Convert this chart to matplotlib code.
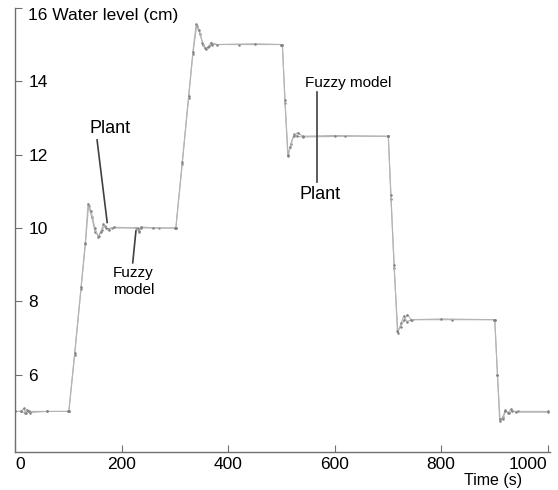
import numpy as np
import matplotlib.pyplot as plt

plt.rcParams['font.family'] = ['Liberation Sans', 'DejaVu Sans']

# plant response (time s, level cm)
plant_t = [0, 12, 16, 20, 24, 28, 60, 100, 101, 112, 124, 132, 137, 143, 150, 156, 161, 166, 170,
           176, 185, 230, 233, 237, 260, 300, 302, 314, 326, 334, 340, 346, 352, 357, 362, 368,
           380, 450, 500, 502, 507, 512, 517, 523, 531, 540, 600, 700, 701, 706, 712, 718, 724,
           731, 737, 744, 800, 900, 901, 906, 910, 916, 921, 926, 932, 940, 1000]
plant_v = [5.0, 5.0, 5.08, 4.95, 5.02, 4.97, 5.0, 5.0, 5.0, 6.6, 8.4, 9.6, 10.66, 10.45, 10.0, 9.76, 9.9,
           10.1, 10.0, 9.95, 10.02, 10.0, 9.92, 10.03, 10.0, 10.0, 10.0, 11.8, 13.6, 14.8, 15.55,
           15.4, 15.05, 14.9, 14.92, 15.05, 15.0, 15.02, 15.0, 15.0, 13.5, 12.0, 12.2, 12.5, 12.6,
           12.5, 12.52, 12.5, 12.5, 10.9, 9.0, 7.2, 7.3, 7.5, 7.64, 7.5, 7.52, 7.5, 7.5, 6.0, 4.78,
           4.8, 5.0, 4.97, 5.06, 4.98, 4.98]

# fuzzy model response
model_t = [0, 12, 18, 22, 26, 60, 100, 101, 112, 124, 132, 138, 144, 150, 157, 163, 168, 174, 182,
           228, 232, 236, 270, 300, 302, 314, 326, 334, 341, 347, 353, 358, 364, 370, 420, 500,
           502, 507, 513, 518, 524, 530, 540, 620, 700, 701, 706, 712, 719, 725, 730, 736, 745,
           820, 900, 901, 906, 911, 916, 921, 927, 933, 945, 1000]
model_v = [5.0, 5.0, 4.96, 5.05, 5.0, 5.0, 5.0, 5.0, 6.55, 8.35, 9.55, 10.6, 10.3, 9.9, 9.78, 9.95,
           10.05, 9.98, 10.0, 10.0, 9.9, 10.0, 10.0, 10.0, 10.0, 11.75, 13.55, 14.75, 15.5,
           15.3, 15.0, 14.88, 14.95, 15.0, 15.0, 15.0, 15.0, 13.4, 11.95, 12.3, 12.55, 12.5,
           12.48, 12.5, 12.5, 12.5, 10.8, 8.9, 7.15, 7.4, 7.6, 7.45, 7.5, 7.5, 7.5, 7.5, 6.0,
           4.75, 4.85, 5.03, 4.95, 5.0, 5.0, 5.0]

x_ticks = [0, 200, 400, 600, 800, 1000]
y_ticks = [6, 8, 10, 12, 14, 16]
y_tick_labels = ['6', '8', '10', '12', '14', '16 Water level (cm)']

fig = plt.figure(figsize=(5.58, 4.90), dpi=100)
ax = fig.add_axes([0.027, 0.078, 0.958, 0.906])

for t, v in [(model_t, model_v), (plant_t, plant_v)]:
    ax.plot(t, v, color='#b4b4b4', lw=0.8, marker='.', ms=1.6,
            mfc='#808080', mec='#808080')

ax.set_xlim(0, 1004)
ax.set_ylim(3.9, 16)
ax.set_xticks(x_ticks)
ax.set_yticks(y_ticks)
ax.set_yticklabels(y_tick_labels)

for s in ['top', 'right']:
    ax.spines[s].set_visible(False)
for s in ['left', 'bottom']:
    ax.spines[s].set_color('#707070')
    ax.spines[s].set_linewidth(1.0)

ax.tick_params(axis='x', direction='in', length=5, color='#707070', labelsize=12.5, pad=4)
ax.tick_params(axis='y', direction='in', length=5, color='#707070', labelsize=12.5, pad=-9.5)
for lab in ax.get_yticklabels():
    lab.set_horizontalalignment('left')
ax.get_yticklabels()[-1].set_verticalalignment('top')
xlabs = ax.get_xticklabels()
xlabs[0].set_horizontalalignment('left')
xlabs[-1].set_horizontalalignment('right')

ax.text(953, 3.12, 'Time (s)', ha='right', va='center', fontsize=11.5)

# annotations
ann_col = '#404040'
ax.text(178, 12.7, 'Plant', ha='center', va='center', fontsize=13)
ax.plot([154, 173], [12.4, 10.15], color=ann_col, lw=1.2)
ax.text(222, 8.55, 'Fuzzy\nmodel', ha='center', va='center', fontsize=11, linespacing=1.3)
ax.plot([221, 227], [9.05, 9.92], color=ann_col, lw=1.2)

ax.text(544, 13.95, 'Fuzzy model', ha='left', va='center', fontsize=11)
ax.plot([567, 567], [13.7, 11.25], color=ann_col, lw=1.2)
ax.text(572, 10.9, 'Plant', ha='center', va='center', fontsize=13)

fig.savefig('out.png', dpi=100)
